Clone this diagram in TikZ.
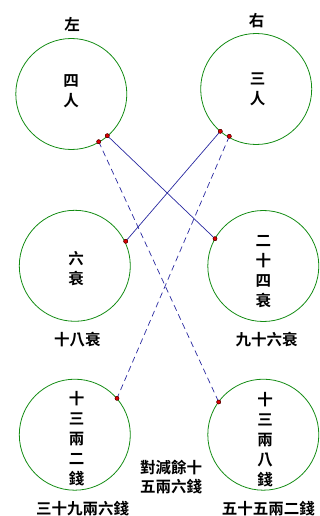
\documentclass[tikz,border=0pt]{standalone}
\usepackage{fontspec}
\newfontfamily\cjk{Noto Sans CJK TC}[BoldFont={Noto Sans CJK TC Bold}]
\definecolor{cgreen}{RGB}{20,140,20}
\definecolor{lblue}{RGB}{40,40,160}
\definecolor{dred}{RGB}{220,0,0}
\begin{document}
\begin{tikzpicture}[x=1pt,y=-1pt,
  ring/.style={draw=cgreen,line width=0.8pt,circle,minimum size=111pt,inner sep=0pt},
  lbl/.style={font=\cjk\bfseries\fontsize{15.5}{20}\selectfont,align=center,inner sep=0pt},
  dot/.style={circle,fill=dred,draw=black!70!red,line width=0.4pt,minimum size=4pt,inner sep=0pt},
  sline/.style={draw=lblue,line width=0.7pt},
  dline/.style={draw=lblue,line width=0.7pt,dash pattern=on 6pt off 4pt}]
\useasboundingbox (0,0) rectangle (320,516);
\node[ring] (c1) at (71.3,94) {};
\node[ring] (c2) at (256.2,89) {};
\node[ring] (c3) at (74.8,265.8) {};
\node[ring] (c4) at (263.3,266) {};
\node[ring] (c5) at (74.8,434.7) {};
\node[ring] (c6) at (263.3,434.7) {};
\node[lbl] (tl) at (72,24) {左};
\node[lbl] (tr) at (256.7,21) {右};
\node[lbl] (t1) at (71,91.7) {四\\人};
\node[lbl] (t2) at (257.7,89.5) {三\\人};
\node[lbl] (t3) at (76,268.3) {六\\衰};
\node[lbl] (t4) at (263.3,271.3) {二\\十\\四\\衰};
\node[lbl] (t5) at (77.3,339.3) {十八衰};
\node[lbl] (t6) at (266.7,339.3) {九十六衰};
\node[lbl] (t7) at (76.7,438.3) {十\\三\\兩\\二\\錢};
\node[lbl] (t8) at (265,439.5) {十\\三\\兩\\八\\錢};
\node[lbl,font=\cjk\bfseries\fontsize{15.5}{18.7}\selectfont] (t9) at (171,476.7) {對減餘十\\五兩六錢};
\node[lbl] (t10) at (82.7,508.3) {三十九兩六錢};
\node[lbl] (t11) at (268.3,508.3) {五十五兩二錢};
\node[dot] (d1) at (107.3,135.7) {};
\node[dot] (d2) at (98.7,141.7) {};
\node[dot] (d3) at (220.3,131.3) {};
\node[dot] (d4) at (229.3,136.3) {};
\node[dot] (d5) at (125.7,241.3) {};
\node[dot] (d6) at (215,238.7) {};
\node[dot] (d7) at (117,398.3) {};
\node[dot] (d8) at (218.7,402) {};
\draw[sline] (d1.center) -- (d6.center);
\draw[sline] (d3.center) -- (d5.center);
\draw[dline] (d2.center) -- (d8.center);
\draw[dline] (d4.center) -- (d7.center);
\foreach \d in {d1,d2,d3,d4,d5,d6,d7,d8} \node[dot] at (\d) {};
\end{tikzpicture}
\end{document}
